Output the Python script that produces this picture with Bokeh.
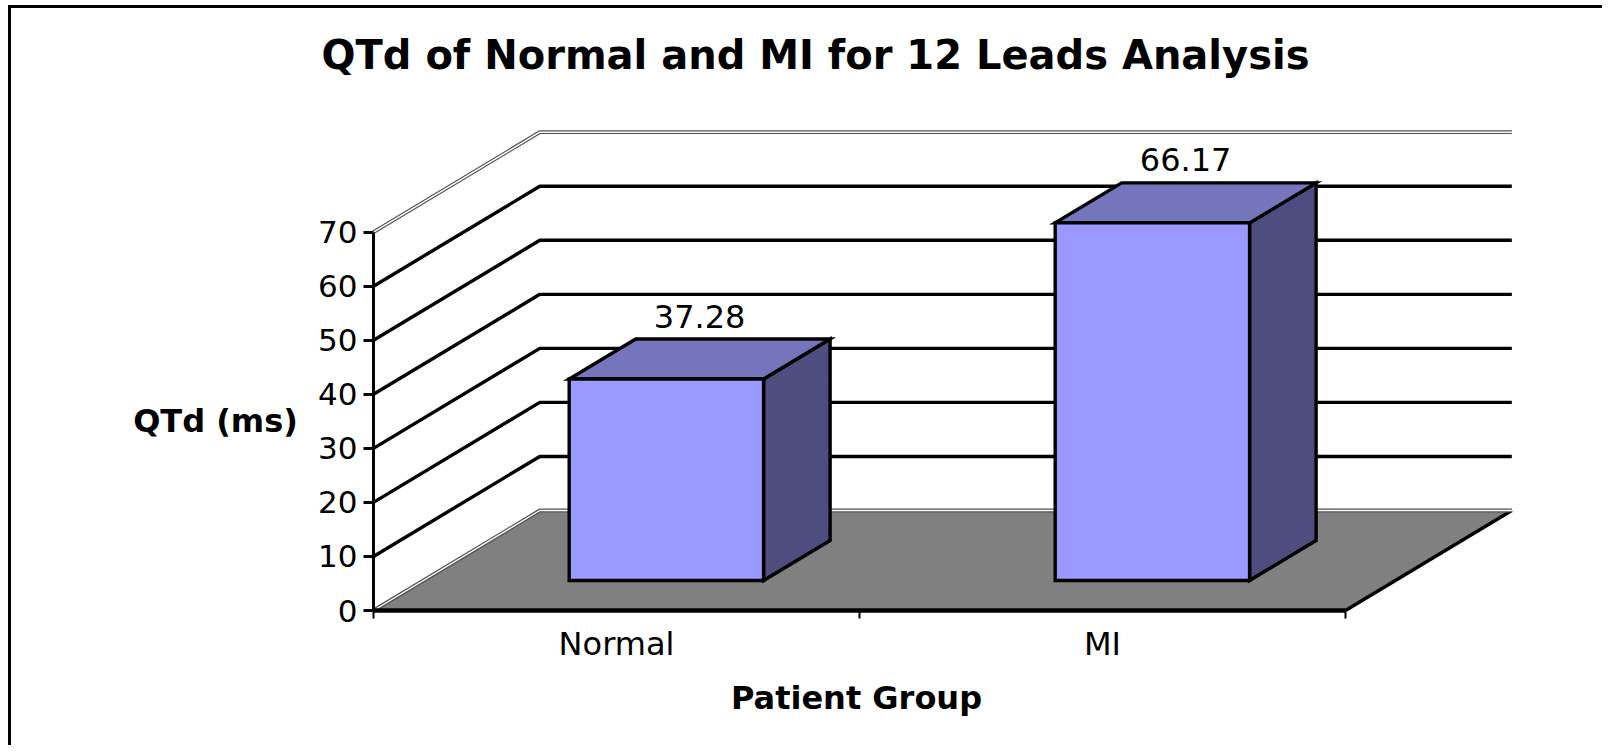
from bokeh.plotting import figure
from bokeh.models import Range1d, LinearAxis, FixedTicker, Label, ColumnDataSource
from bokeh.core.properties import value
from bokeh.embed import file_html
from bokeh.resources import INLINE

# ---- data ----
categories = ["Normal", "MI"]
qtd_ms = [37.28, 66.17]
value_labels = ["37.28", "66.17"]
y_ticks = [0, 10, 20, 30, 40, 50, 60, 70]
title_text = "QTd of Normal and MI for 12 Leads Analysis"
x_title = "Patient Group"
y_title = "QTd (ms)"

# ---- geometry / style ----
W, H = 1594, 740
ORG_X, ORG_Y = 11, 8             # canvas origin on the page (margin + 3px border)
X0_PAGE, Y0_PAGE = 373, 610      # page position of data origin (front-left floor corner)
FRAME_L, FRAME_R, FRAME_T, FRAME_B = 122, 1590, 12, 746   # page px
PX_X = 486.0                     # px per category unit
PX_Y = (610 - 231.7) / 70.0      # px per ms
DX = 166.3 / PX_X                # depth offset in x data units
DY = 100.0 / PX_Y                # depth offset in y data units
BAR_HALF = 0.2
Z0, Z1 = 0.3, 0.7                # bar depth fractions
YMAX = max(y_ticks)
N = len(categories)
LW = 3.4

FONT = "DejaVu Sans"

def X(px):
    return (px - X0_PAGE) / PX_X

def Y(py):
    return (Y0_PAGE - py) / PX_Y

p = figure(width=W, height=H, output_backend="svg", toolbar_location=None,
           x_range=Range1d(X(FRAME_L), X(FRAME_R)),
           y_range=Range1d(Y(FRAME_B), Y(FRAME_T)),
           x_axis_type=None, y_axis_type=None,
           min_border_left=FRAME_L - ORG_X, min_border_right=W - (FRAME_R - ORG_X),
           min_border_top=FRAME_T - ORG_Y, min_border_bottom=H - (FRAME_B - ORG_Y))
p.grid.visible = False
p.outline_line_color = None
p.background_fill_color = "white"
p.border_fill_color = "white"
p.styles = {"margin-left": "8px", "margin-top": "5px",
            "border-left": "3px solid black", "border-top": "3px solid black"}

# floor
p.patch([0, N, N + DX, DX], [0, 0, DY, DY], fill_color="#808080", line_color=None)
p.line([N, N + DX], [0, DY], line_color="black", line_width=LW)

# wall grid lines
grid_vals = [v for v in y_ticks if 0 < v < YMAX]
p.multi_line([[0, DX, N + DX] for v in grid_vals],
             [[v, v + DY, v + DY] for v in grid_vals],
             line_color="black", line_width=LW)
# double-style edges (floor back edge, wall top edge)
edge_vals = [0, YMAX]
for lw, col in [(3.8, "#505050"), (1.4, "white")]:
    p.multi_line([[0, DX, N + DX] for v in edge_vals],
                 [[v, v + DY, v + DY] for v in edge_vals],
                 line_color=col, line_width=lw)

# bars
side_xs, side_ys, top_xs, top_ys = [], [], [], []
front_l, front_r, front_b, front_t = [], [], [], []
lab_x, lab_y = [], []
for i, v in enumerate(qtd_ms):
    c = i + 0.5
    x0 = c - BAR_HALF
    x1 = c + BAR_HALF
    dx0, dy0 = Z0 * DX, Z0 * DY
    dx1, dy1 = Z1 * DX, Z1 * DY
    side_xs.append([x1 + dx0, x1 + dx1, x1 + dx1, x1 + dx0])
    side_ys.append([dy0, dy1, v + dy1, v + dy0])
    top_xs.append([x0 + dx0, x1 + dx0, x1 + dx1, x0 + dx1])
    top_ys.append([v + dy0, v + dy0, v + dy1, v + dy1])
    front_l.append(x0 + dx0); front_r.append(x1 + dx0)
    front_b.append(dy0); front_t.append(v + dy0)
    lab_x.append(c + 0.5 * DX)
    lab_y.append(v + 0.5 * DY)

p.patches(side_xs, side_ys, fill_color="#4D4D80", line_color="black", line_width=LW, line_join="miter")
p.patches(top_xs, top_ys, fill_color="#7575BD", line_color="black", line_width=LW, line_join="miter")
p.quad(left=front_l, right=front_r, bottom=front_b, top=front_t,
       fill_color="#9999FF", line_color="black", line_width=LW, line_join="miter")

src = ColumnDataSource(dict(x=lab_x, y=lab_y, t=value_labels))
p.text(x="x", y="y", text="t", source=src, y_offset=-43,
       text_align="center", text_baseline="middle",
       text_font=value(FONT), text_font_size="32px", text_color="black")

# axes (placed at the data origin, inside the frame)
yax = LinearAxis(ticker=FixedTicker(ticks=y_ticks), bounds=(0, YMAX), fixed_location=0,
                 axis_line_width=3, axis_line_color="black",
                 major_tick_line_width=3, major_tick_out=10, major_tick_in=0,
                 minor_tick_line_color=None,
                 major_label_text_font=FONT, major_label_text_font_size="31px",
                 major_label_standoff=6, major_label_text_color="black")
p.add_layout(yax, "left")

cat_pos = [i + 0.5 for i in range(N)]
xax = LinearAxis(ticker=FixedTicker(ticks=cat_pos, minor_ticks=list(range(N + 1))),
                 bounds=(0, N), fixed_location=0,
                 major_label_overrides={pos: name for pos, name in zip(cat_pos, categories)},
                 axis_line_width=4.5, axis_line_color="black",
                 major_tick_line_color=None, major_tick_out=0, major_tick_in=0,
                 minor_tick_line_width=2, minor_tick_line_color="black",
                 minor_tick_out=8, minor_tick_in=0,
                 major_label_text_font=FONT, major_label_text_font_size="32px",
                 major_label_standoff=6, major_label_text_color="black")
p.add_layout(xax, "below")

# titles
p.add_layout(Label(x=X(815), y=Y(54), text=title_text, text_align="center",
                   text_baseline="middle", text_font=FONT, text_font_size="40px",
                   text_font_style="bold", text_color="black"))
p.add_layout(Label(x=X(215), y=Y(420), text=y_title, text_align="center",
                   text_baseline="middle", text_font=FONT, text_font_size="32px",
                   text_font_style="bold", text_color="black"))
p.add_layout(Label(x=X(856), y=Y(697), text=x_title, text_align="center",
                   text_baseline="middle", text_font=FONT, text_font_size="32px",
                   text_font_style="bold", text_color="black"))

open("out.html", "w").write(file_html(p, INLINE))
